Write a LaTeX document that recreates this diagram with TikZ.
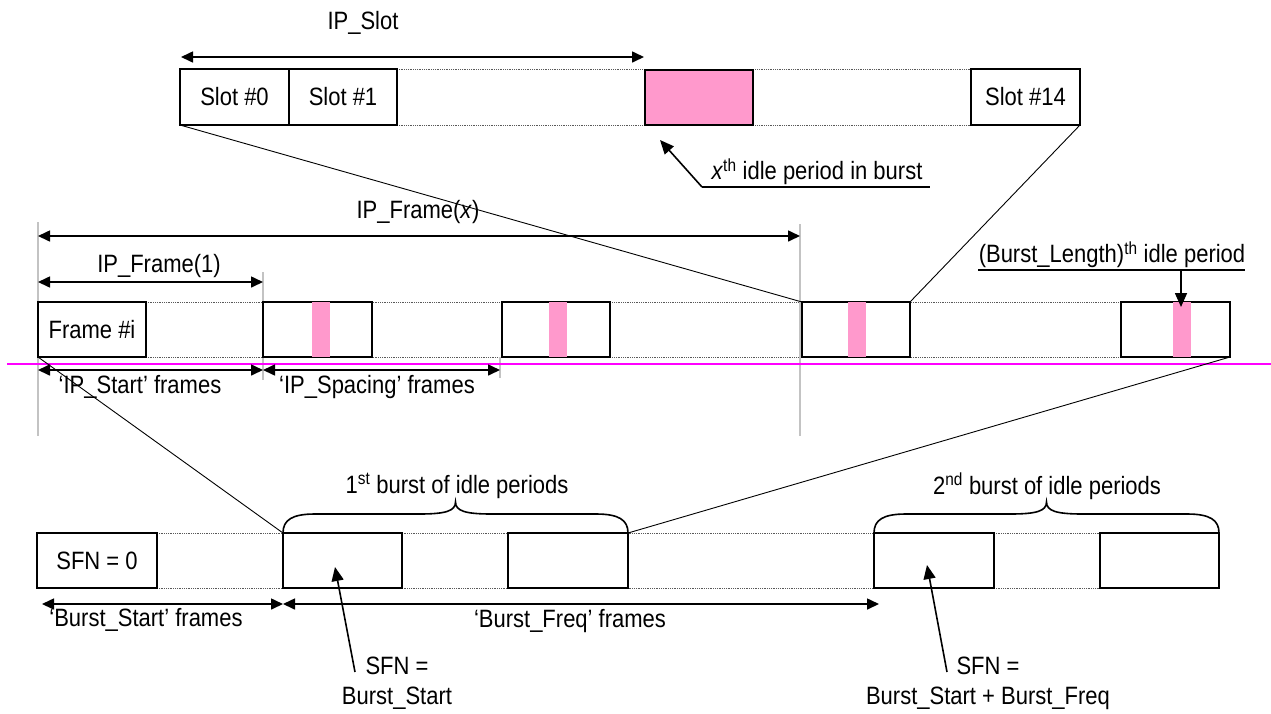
\documentclass[tikz,border=0pt]{standalone}
\usepackage{fontspec}
\usepackage{graphicx}
\setmainfont{Liberation Sans}
\usetikzlibrary{arrows.meta,calc}
\definecolor{idle}{RGB}{255,153,204}
\definecolor{guidegray}{RGB}{195,195,195}
\definecolor{magline}{RGB}{255,0,255}
\newcommand{\vt}[1]{\scalebox{1}[1.14]{#1}}
\pgfdeclarelayer{background}
\pgfsetlayers{background,main}
\begin{document}
\begin{tikzpicture}[x=1pt,y=-1pt,
  every node/.style={font=\fontsize{22}{30}\selectfont, inner sep=0pt, outer sep=0pt},
  box/.style={draw=black, line width=1.6pt, anchor=north west, minimum height=55pt},
  strip/.style={fill=idle, anchor=north west, minimum width=18pt, minimum height=55pt},
  dotline/.style={densely dotted, line width=0.8pt, black!65},
  guide/.style={draw=guidegray, line width=1.5pt},
  dimline/.style={line width=1.6pt, {Triangle[length=12pt,width=11pt]}-{Triangle[length=12pt,width=11pt]}},
  pointer/.style={line width=1.6pt, -{Triangle[length=14pt,width=12pt]}},
  zoomline/.style={line width=0.9pt},
  callline/.style={line width=1.4pt},
  bracestyle/.style={line width=1.6pt}
]
\useasboundingbox (0,0) rectangle (1271,713);

% ---------------- top row: slots ----------------
\node[box, minimum width=109pt, minimum height=56pt] (s0) at (180,69) {\vt{Slot \#0}};
\node[box, minimum width=108pt, minimum height=56pt] (s1) at (289,69) {\vt{Slot \#1}};
\node[box, fill=idle, minimum width=108pt, minimum height=55pt] (ips) at (645,70) {};
\node[box, minimum width=109pt, minimum height=56pt] (s14) at (971,69) {\vt{Slot \#14}};
\begin{pgfonlayer}{background}
  \draw[dotline] (s1.north east) -- (s14.north west);
  \draw[dotline] (s1.south east) -- (s14.south west);
\end{pgfonlayer}

\node (lslot) at (363,23) {\vt{IP\_Slot}};
\coordinate (slA) at (181,57);
\coordinate (slB) at (644,57);
\draw[dimline] (slA) -- (slB);

\coordinate (xtip) at (660,140);
\coordinate (xtail) at (702,187);
\coordinate (xend) at (930,187);
\draw[pointer] (xtail) -- (xtip);
\draw[callline] (xtail) -- (xend);
\node[anchor=south] (xlab) at (817,185) {\vt{\textit{x}\textsuperscript{th} idle period in burst}};

% ---------------- middle row: frames ----------------
\node[box, minimum width=108pt] (f1) at (38,302) {\vt{Frame \#i}};
\node[box, minimum width=109pt] (f2) at (263,302) {};
\node[box, minimum width=108pt] (f3) at (502,302) {};
\node[box, minimum width=108pt] (f4) at (802,302) {};
\node[box, minimum width=109pt] (f5) at (1121,302) {};
\node[strip] (p2) at (312,302) {};
\node[strip] (p3) at (549,302) {};
\node[strip] (p4) at (848,302) {};
\node[strip] (p5) at (1173,302) {};
\begin{pgfonlayer}{background}
  \draw[dotline] (f1.north east) -- (f5.north west);
  \draw[dotline] (f1.south east) -- (f5.south west);
  \draw[guide] (38,222) -- (38,436);
  \draw[guide] (263,272) -- (263,380);
  \draw[guide] (500,357) -- (500,378);
  \draw[guide] (800,224) -- (800,436);
\end{pgfonlayer}
\draw[magline, line width=2pt] (7,364) -- (1271,364);

\node (lfx) at (418,212) {\vt{IP\_Frame(\textit{x})}};
\coordinate (fxA) at (38,236);
\coordinate (fxB) at (800,236);
\draw[dimline] (fxA) -- (fxB);

\node (lf1) at (159,266) {\vt{IP\_Frame(1)}};
\coordinate (f1A) at (38,282);
\coordinate (f1B) at (263,282);
\draw[dimline] (f1A) -- (f1B);

\coordinate (isA) at (38,370);
\coordinate (isB) at (263,370);
\coordinate (spB) at (500,370);
\draw[dimline] (isA) -- (isB);
\draw[dimline] (isB) -- (spB);
\node (lis) at (140,387) {\vt{‘IP\_Start’ frames}};
\node (lsp) at (377,387) {\vt{‘IP\_Spacing’ frames}};

\coordinate (bltip) at (1181,307);
\coordinate (blA) at (978,270);
\coordinate (blB) at (1245,270);
\coordinate (blmid) at (1181,270);
\draw[callline] (blA) -- (blB);
\draw[pointer] (blmid) -- (bltip);
\node[anchor=south] (lbl) at (1112,268) {\vt{(Burst\_Length)\textsuperscript{th} idle period}};

% zoom lines top -> middle
\draw[zoomline] (s0.south west) -- (f4.north west);
\draw[zoomline] (s14.south east) -- (f4.north east);

% ---------------- bottom row: bursts ----------------
\node[box, minimum width=120pt] (b1) at (37,533) {\vt{SFN = 0}};
\node[box, minimum width=119pt] (b2) at (283,533) {};
\node[box, minimum width=120pt] (b3) at (508,533) {};
\node[box, minimum width=120pt] (b4) at (874,533) {};
\node[box, minimum width=119pt] (b5) at (1100,533) {};
\begin{pgfonlayer}{background}
  \draw[dotline] (b1.north east) -- (b5.north west);
  \draw[dotline] (b1.south east) -- (b5.south west);
\end{pgfonlayer}

\draw[zoomline] (f1.south west) -- (b2.north west);
\draw[zoomline] (f5.south east) -- (b3.north east);

% braces
\coordinate (m1) at ($(b2.north west)!0.5!(b3.north east)$);
\coordinate (m2) at ($(b4.north west)!0.5!(b5.north east)$);
\draw[bracestyle] (b2.north west)
   .. controls ($(b2.north west)+(0,-13)$) and ($(b2.north west)+(9,-19)$) .. ($(b2.north west)+(32,-19)$)
   -- ($(m1)+(-36,-19)$)
   .. controls ($(m1)+(-10,-19)$) and ($(m1)+(0,-22)$) .. ($(m1)+(0,-31)$)
   .. controls ($(m1)+(0,-22)$) and ($(m1)+(10,-19)$) .. ($(m1)+(36,-19)$)
   -- ($(b3.north east)+(-32,-19)$)
   .. controls ($(b3.north east)+(-9,-19)$) and ($(b3.north east)+(0,-13)$) .. (b3.north east);
\draw[bracestyle] (b4.north west)
   .. controls ($(b4.north west)+(0,-13)$) and ($(b4.north west)+(9,-19)$) .. ($(b4.north west)+(32,-19)$)
   -- ($(m2)+(-36,-19)$)
   .. controls ($(m2)+(-10,-19)$) and ($(m2)+(0,-22)$) .. ($(m2)+(0,-31)$)
   .. controls ($(m2)+(0,-22)$) and ($(m2)+(10,-19)$) .. ($(m2)+(36,-19)$)
   -- ($(b5.north east)+(-32,-19)$)
   .. controls ($(b5.north east)+(-9,-19)$) and ($(b5.north east)+(0,-13)$) .. (b5.north east);
\node (lb1) at (457,486) {\vt{1\textsuperscript{st} burst of idle periods}};
\node (lb2) at (1047,486) {\vt{2\textsuperscript{nd} burst of idle periods}};

\coordinate (bsA) at (42,604);
\coordinate (bsB) at (283,604);
\coordinate (bfB) at (879,604);
\draw[dimline] (bsA) -- (bsB);
\draw[dimline] (bsB) -- (bfB);
\node (lbs) at (146,620) {\vt{‘Burst\_Start’ frames}};
\node (lbf) at (570,621) {\vt{‘Burst\_Freq’ frames}};

\coordinate (t1tip) at (335,567);
\coordinate (t1tail) at (355,672);
\draw[pointer] (t1tail) -- (t1tip);
\node[align=center] (sfn1) at (397,683) {\vt{SFN =}\\\vt{Burst\_Start}};

\coordinate (t2tip) at (927,565);
\coordinate (t2tail) at (947,672);
\draw[pointer] (t2tail) -- (t2tip);
\node[align=center] (sfn2) at (988,683) {\vt{SFN =}\\\vt{Burst\_Start + Burst\_Freq}};
\end{tikzpicture}
\end{document}
